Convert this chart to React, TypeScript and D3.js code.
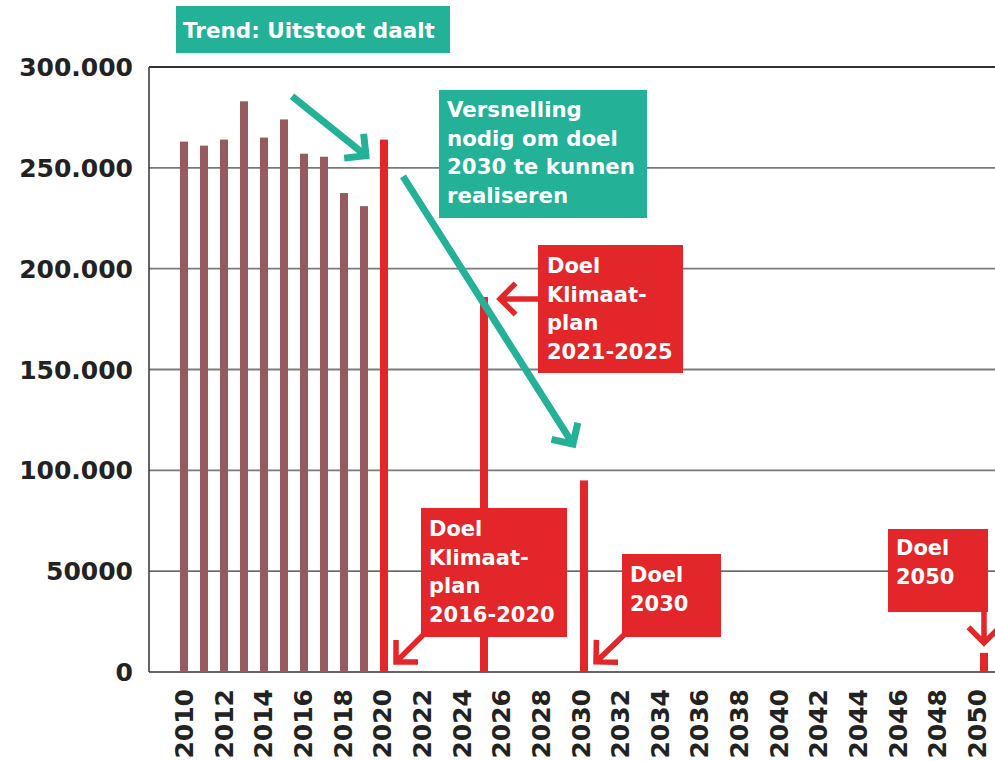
import React from 'react';
import * as d3 from 'd3';

// emissions per year (ton CO2)
const histYears = [2010, 2011, 2012, 2013, 2014, 2015, 2016, 2017, 2018, 2019];
const histValues = [263000, 261000, 264000, 283000, 265000, 274000, 257000, 255500, 237500, 231000];
const goalYears = [2020, 2025, 2030, 2050];
const goalValues = [264000, 186000, 95000, 9500];
const yTicks = [0, 50000, 100000, 150000, 200000, 250000, 300000];
const yTickLabels = ['0', '50000', '100.000', '150.000', '200.000', '250.000', '300.000'];
const xTickYears = d3.range(2010, 2051, 2);

const W = 995;
const H = 761;
const FONT = "'DejaVu Sans', sans-serif";
const MAROON = '#955b5e';
const RED = '#e3262a';
const TEAL = '#23b197';

const x = d3.scaleLinear().domain([2010, 2050]).range([184, 984]);
// tick labels sit a little left of the bars towards the right end
const xLabel = d3.scaleLinear().domain([2010, 2050]).range([184, 977]);
const y = d3.scaleLinear().domain([0, 300000]).range([672, 67]);
const axisLeft = 149;
const barW = 8;

type Pt = [number, number];

const arrowPath = (from: Pt, to: Pt, arm = 22) => {
  const ang = Math.atan2(to[1] - from[1], to[0] - from[0]) + Math.PI;
  const a1: Pt = [to[0] + arm * Math.cos(ang - Math.PI / 4), to[1] + arm * Math.sin(ang - Math.PI / 4)];
  const a2: Pt = [to[0] + arm * Math.cos(ang + Math.PI / 4), to[1] + arm * Math.sin(ang + Math.PI / 4)];
  return `M${from[0]},${from[1]}L${to[0]},${to[1]}M${a1[0]},${a1[1]}L${to[0]},${to[1]}L${a2[0]},${a2[1]}`;
};

// annotation boxes (pixel layout)
const boxes = [
  { x: 176, y: 6, w: 274, h: 47, fill: TEAL, lines: ['Trend: Uitstoot daalt'], tx: 183, ty: 38, fs: 21.5 },
  { x: 439, y: 90, w: 208, h: 128, fill: TEAL, lines: ['Versnelling', 'nodig om doel', '2030 te kunnen', 'realiseren'], tx: 447, ty: 117, fs: 21.3 },
  { x: 538, y: 245, w: 145, h: 128, fill: RED, lines: ['Doel', 'Klimaat-', 'plan', '2021-2025'], tx: 547, ty: 273, fs: 21 },
  { x: 421, y: 508, w: 146, h: 129, fill: RED, lines: ['Doel', 'Klimaat-', 'plan', '2016-2020'], tx: 429, ty: 536, fs: 21 },
  { x: 622, y: 554, w: 99, h: 83, fill: RED, lines: ['Doel', '2030'], tx: 630, ty: 582, fs: 21 },
  { x: 888, y: 529, w: 100, h: 83, fill: RED, lines: ['Doel', '2050'], tx: 896, ty: 555, fs: 21 },
];

const tealArrows: { from: Pt; to: Pt }[] = [
  { from: [x(2015.4), y(285500)], to: [x(2019.1), y(256000)] },
  { from: [x(2020.95), y(245800)], to: [x(2029.45), y(113000)] },
];

const redArrows: { from: Pt; to: Pt }[] = [
  { from: [426, 632], to: [x(2020) + 12, y(5000)] },
  { from: [627, 632], to: [x(2030) + 12, y(5000)] },
  { from: [540, y(185000)], to: [x(2025) + 16, y(185000)] },
  { from: [x(2050), 612], to: [x(2050), y(9500) - 10] },
];

const App = () => {
  return (
    <>
      <style>{`body{margin:0;overflow:hidden;background:#fff}`}</style>
      <svg width={W} height={H} style={{ display: 'block' }} fontFamily={FONT}>
        {/* gridlines */}
        {yTicks.slice(1).map((t) => (
          <line
            key={t}
            x1={axisLeft}
            x2={W}
            y1={y(t)}
            y2={y(t)}
            stroke={t === 50000 || t === 300000 ? '#333' : '#7a7a7a'}
            strokeWidth={t === 50000 ? 1.2 : 1.8}
          />
        ))}
        {/* axes */}
        <line x1={axisLeft} x2={axisLeft} y1={y(300000)} y2={y(0)} stroke="#333" strokeWidth={1.5} />
        <line x1={axisLeft} x2={W} y1={y(0)} y2={y(0)} stroke="#333" strokeWidth={1.5} />

        {/* y labels */}
        {yTicks.map((t, i) => (
          <text key={t} x={133} y={y(t)} dy="0.36em" textAnchor="end" fontSize={25} fontWeight={700} fill="#222">
            {yTickLabels[i]}
          </text>
        ))}

        {/* x labels */}
        {xTickYears.map((yr) => (
          <text
            key={yr}
            transform={`translate(${xLabel(yr)},689) rotate(-90)`}
            dy="0.36em"
            textAnchor="end"
            fontSize={25}
            fontWeight={700}
            fill="#222"
          >
            {yr}
          </text>
        ))}

        {/* bars */}
        {histYears.map((yr, i) => (
          <rect key={yr} x={x(yr) - barW / 2} y={y(histValues[i])} width={barW} height={y(0) - y(histValues[i])} fill={MAROON} />
        ))}
        {goalYears.map((yr, i) => (
          <rect key={yr} x={x(yr) - barW / 2} y={y(goalValues[i])} width={barW} height={y(0) - y(goalValues[i])} fill={RED} />
        ))}

        {/* arrows */}
        {tealArrows.map((a, i) => (
          <path key={i} d={arrowPath(a.from, a.to)} fill="none" stroke={TEAL} strokeWidth={7} strokeLinejoin="miter" />
        ))}
        {redArrows.map((a, i) => (
          <path key={i} d={arrowPath(a.from, a.to)} fill="none" stroke={RED} strokeWidth={5.5} strokeLinejoin="miter" />
        ))}

        {/* annotation boxes */}
        {boxes.map((b, i) => (
          <g key={i}>
            <rect x={b.x} y={b.y} width={b.w} height={b.h} fill={b.fill} />
            {b.lines.map((l, j) => (
              <text key={j} x={b.tx} y={b.ty + j * 28.7} fontSize={b.fs} fontWeight={700} fill="#fff">
                {l}
              </text>
            ))}
          </g>
        ))}
      </svg>
    </>
  );
};

export default App;
